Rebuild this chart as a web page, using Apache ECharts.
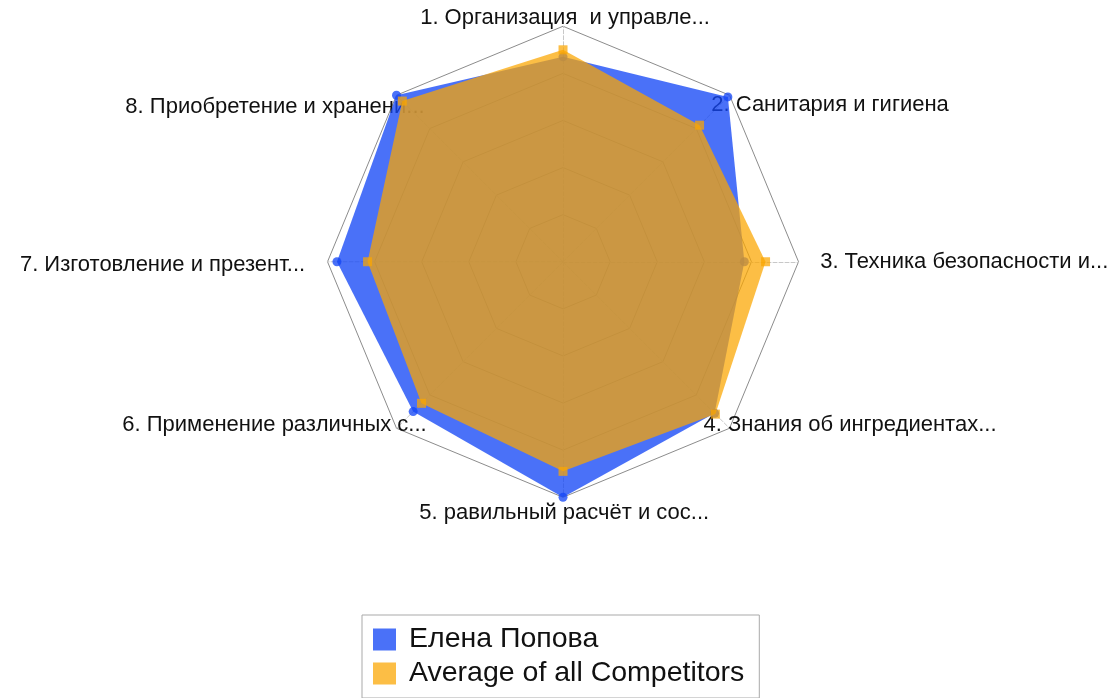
<!DOCTYPE html>
<html>
<head>
<meta charset="utf-8">
<script src="https://cdn.jsdelivr.net/npm/echarts@6/dist/echarts.min.js"></script>
<style>
  html, body { margin: 0; padding: 0; background: #fff; }
  #chart { width: 1120px; height: 698px; }
</style>
</head>
<body>
<div id="chart"></div>
<script>
// categories in the order they read clockwise from the top
const indicatorNames = [
  '1. Организация  и управле...',
  '2. Санитария и гигиена',
  '3. Техника безопасности и...',
  '4. Знания об ингредиентах...',
  '5. равильный расчёт и сос...',
  '6. Применение различных с...',
  '7. Изготовление и презент...',
  '8. Приобретение и хранени...'
];
const seriesNames = ['Елена Попова', 'Average of all Competitors'];
const maxScore = 100;
const elenaScores = [87, 99, 77, 91, 100, 90, 96, 100];
const averageScores = [90, 82, 86, 91.5, 89, 85, 83, 96.5];

// label nudges (px) from each axis end, the source chart pulls them in
const nameShift = [[2, -8], [100.5, 10], [165.7, 0.5], [120.5, -3], [1.2, 15.3], [-122, -3], [-165, 3.3], [-121.5, 11.5]];

const fontFamily = '"Liberation Sans", Arial, sans-serif';
const textColor = '#111';
const blue = 'rgba(20, 70, 246, 0.77)';
const orange = 'rgba(251, 166, 0, 0.73)';

// echarts runs indicators counter-clockwise, so feed them reversed after the first
const order = [0, 7, 6, 5, 4, 3, 2, 1];

const rich = {};
nameShift.forEach(([dx, dy], i) => {
  rich['n' + i] = {
    fontSize: 22,
    fontFamily: fontFamily,
    color: textColor,
    padding: [dy > 0 ? 2 * dy : 0, dx < 0 ? -2 * dx : 0, dy < 0 ? -2 * dy : 0, dx > 0 ? 2 * dx : 0]
  };
});

// z keeps the later series (area + markers) fully above the earlier one
function radarSeries (name, scores, color, symbol, z) {
  return {
    type: 'radar',
    z: z,
    emphasis: { disabled: true },
    data: [{
      name: name,
      value: order.map(i => scores[i]),
      symbol: symbol,
      symbolSize: 9,
      itemStyle: { color: color },
      lineStyle: { opacity: 0 },
      areaStyle: { color: color, opacity: 1 }
    }]
  };
}

const chart = echarts.init(document.getElementById('chart'));
chart.setOption({
  animation: false,
  backgroundColor: '#fff',
  legend: {
    orient: 'vertical',
    left: 362,
    top: 615,
    padding: [10, 15, 10, 11],
    itemWidth: 23,
    itemHeight: 22,
    itemGap: 5,
    icon: 'rect',
    borderColor: '#a9a9a9',
    borderWidth: 1,
    textStyle: { fontSize: 28.5, color: textColor, fontFamily: fontFamily, padding: [0, 0, 0, 8] },
    data: seriesNames
  },
  radar: {
    center: ['50.27%', '37.5%'],
    radius: 235.5,
    startAngle: 90,
    splitNumber: 5,
    shape: 'polygon',
    nameGap: 0,
    indicator: order.map(i => ({ name: indicatorNames[i], min: 0, max: maxScore })),
    axisName: {
      formatter: name => '{n' + indicatorNames.indexOf(name) + '|' + name + '}',
      color: textColor,
      fontSize: 22,
      fontFamily: fontFamily,
      align: 'center',
      verticalAlign: 'middle',
      rich: rich
    },
    splitLine: { lineStyle: { color: '#8c8c8c', width: 1 } },
    splitArea: { show: false },
    axisLine: { lineStyle: { color: '#c8c8c8', type: 'dashed' } }
  },
  series: [
    radarSeries(seriesNames[0], elenaScores, blue, 'circle', 2),
    radarSeries(seriesNames[1], averageScores, orange, 'rect', 3)
  ]
});
</script>
</body>
</html>
